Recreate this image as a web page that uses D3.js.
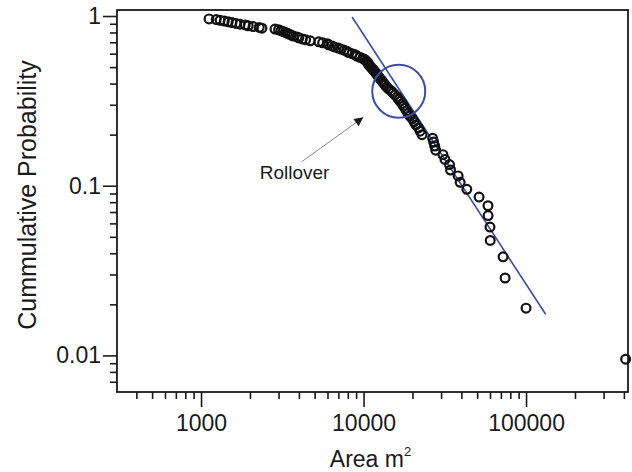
<!DOCTYPE html>
<html>
<head>
<meta charset="utf-8">
<script src="https://cdn.jsdelivr.net/npm/d3@7"></script>
<style>
  html, body { margin: 0; padding: 0; background: #fff; }
  svg { display: block; }
  text { font-family: "Liberation Sans", Arial, Helvetica, sans-serif; fill: #1a1a1a; }
</style>
</head>
<body>
<svg id="chart" width="632" height="472"></svg>
<script>
// ---- Data ----
const area = [410000, 100000, 74300, 72200, 60200, 60000, 58400, 58300, 51400, 43200,
  39300, 38200, 34300, 33800, 31700, 30800, 27800, 27400, 27000, 26600,
  22900, 22300, 21800, 21000, 20500, 20000, 19300, 18800, 18400, 18000,
  17600, 17300, 16800, 16400, 16100, 15600, 15200, 14800, 14300, 13900,
  13600, 13400, 13100, 12900, 12600, 12400, 12200, 12000, 11800, 11600,
  11400, 11200, 11000, 10800, 10700, 10600, 10400, 10200, 9900, 9500,
  9100, 8900, 8500, 8100, 7900, 7600, 7300, 7000, 6600, 6400,
  6100, 6000, 5600, 5300, 4700, 4400, 4200, 4000, 3900, 3700,
  3600, 3500, 3400, 3300, 3200, 3100, 3000, 2850, 2370, 2280,
  2090, 1950, 1870, 1740, 1640, 1550, 1470, 1390, 1310, 1240, 1120];
const prob = [0.0095, 0.0190, 0.0286, 0.0381, 0.0476, 0.0571, 0.0667, 0.0762, 0.0857, 0.0952,
  0.1048, 0.1143, 0.1238, 0.1333, 0.1429, 0.1524, 0.1619, 0.1714, 0.1810, 0.1905,
  0.2000, 0.2095, 0.2190, 0.2286, 0.2381, 0.2476, 0.2571, 0.2667, 0.2762, 0.2857,
  0.2952, 0.3048, 0.3143, 0.3238, 0.3333, 0.3429, 0.3524, 0.3619, 0.3714, 0.3810,
  0.3905, 0.4000, 0.4095, 0.4190, 0.4286, 0.4381, 0.4476, 0.4571, 0.4667, 0.4762,
  0.4857, 0.4952, 0.5048, 0.5143, 0.5238, 0.5333, 0.5429, 0.5524, 0.5619, 0.5714,
  0.5810, 0.5905, 0.6000, 0.6095, 0.6190, 0.6286, 0.6381, 0.6476, 0.6571, 0.6667,
  0.6762, 0.6857, 0.6952, 0.7048, 0.7143, 0.7238, 0.7333, 0.7429, 0.7524, 0.7619,
  0.7714, 0.7810, 0.7905, 0.8000, 0.8095, 0.8190, 0.8286, 0.8381, 0.8476, 0.8571,
  0.8667, 0.8762, 0.8857, 0.8952, 0.9048, 0.9143, 0.9238, 0.9333, 0.9429, 0.9524, 0.9619];

// power-law fit line endpoints
const fitArea = [8500, 132000];
const fitProb = [0.986, 0.0175];

// rollover annotation
const rollCenter = [16470, 0.36];
const arrowFrom = [4166, 0.1385];
const arrowTo = [9972, 0.253];
const rollLabelAt = [3762, 0.1095];
const rollLabel = "Rollover";

const xMajorTicks = [1000, 10000, 100000];
const xTickLabels = ["1000", "10000", "100000"];
const xMinorTicks = [400, 500, 600, 700, 800, 900, 2000, 3000, 4000, 5000, 6000, 7000, 8000, 9000,
  20000, 30000, 40000, 50000, 60000, 70000, 80000, 90000, 200000, 300000, 400000];
const yMajorTicks = [1, 0.1, 0.01];
const yTickLabels = ["1", "0.1", "0.01"];
const yMinorTicks = [0.9, 0.8, 0.7, 0.6, 0.5, 0.4, 0.3, 0.2, 0.09, 0.08, 0.07, 0.06, 0.05, 0.04, 0.03, 0.02,
  0.009, 0.008, 0.007];

const xTitle = "Area m";
const xTitleSup = "2";
const yTitle = "Cummulative Probability";

// ---- Layout ----
const L = 117, R = 628, T = 10, B = 392;
const svg = d3.select("#chart");

const x = d3.scaleLog().domain([304, 424000]).range([L, R]);
const y = d3.scaleLog().domain([1.085, 0.00609]).range([T, B]);

const fontTick = "23px";

// x axis
const gxMinor = svg.append("g").attr("transform", `translate(0,${B})`)
  .call(d3.axisBottom(x).tickValues(xMinorTicks).tickSize(7).tickFormat(""));
const gxMajor = svg.append("g").attr("transform", `translate(0,${B})`)
  .call(d3.axisBottom(x).tickValues(xMajorTicks).tickSize(15).tickPadding(8)
    .tickFormat((d, i) => xTickLabels[i]));
// y axis
const gyMinor = svg.append("g").attr("transform", `translate(${L},0)`)
  .call(d3.axisLeft(y).tickValues(yMinorTicks).tickSize(7).tickFormat(""));
const gyMajor = svg.append("g").attr("transform", `translate(${L},0)`)
  .call(d3.axisLeft(y).tickValues(yMajorTicks).tickSize(14).tickPadding(2)
    .tickFormat((d, i) => yTickLabels[i]));

[gxMinor, gxMajor, gyMinor, gyMajor].forEach(g => {
  g.select(".domain").remove();
  g.selectAll(".tick line").attr("stroke", "#1a1a1a").attr("stroke-width", 1.6);
  g.selectAll(".tick text").style("font-size", fontTick).attr("fill", "#1a1a1a")
    .style("font-family", '"Liberation Sans", Arial, sans-serif');
});

// frame
svg.append("rect").attr("x", L).attr("y", T).attr("width", R - L).attr("height", B - T)
  .attr("fill", "none").attr("stroke", "#1a1a1a").attr("stroke-width", 1.8);

// fit line
const blue = "#3c4f9e";
svg.append("line")
  .attr("x1", x(fitArea[0])).attr("y1", y(fitProb[0]))
  .attr("x2", x(fitArea[1])).attr("y2", y(fitProb[1]))
  .attr("stroke", blue).attr("stroke-width", 1.6);

// data points
const pts = area.map((a, i) => ({ a, p: prob[i] }));
svg.append("g").selectAll("circle").data(pts).join("circle")
  .attr("cx", d => x(d.a)).attr("cy", d => y(d.p)).attr("r", 4.4)
  .attr("fill", "none").attr("stroke", "#111").attr("stroke-width", 2.2);

// rollover circle
svg.append("circle")
  .attr("cx", x(rollCenter[0])).attr("cy", y(rollCenter[1])).attr("r", 26.5)
  .attr("fill", "none").attr("stroke", blue).attr("stroke-width", 2);

// arrow
const defs = svg.append("defs");
defs.append("marker").attr("id", "ah").attr("viewBox", "0 0 10 10")
  .attr("refX", 10).attr("refY", 5).attr("markerWidth", 11).attr("markerHeight", 9)
  .attr("markerUnits", "userSpaceOnUse").attr("orient", "auto")
  .append("path").attr("d", "M0,0 L10,5 L0,10 Z").attr("fill", "#1a1a1a");
svg.append("line")
  .attr("x1", x(arrowFrom[0])).attr("y1", y(arrowFrom[1]))
  .attr("x2", x(arrowTo[0])).attr("y2", y(arrowTo[1]))
  .attr("stroke", "#8a8a8a").attr("stroke-width", 1)
  .attr("marker-end", "url(#ah)");

svg.append("text").attr("x", x(rollLabelAt[0])).attr("y", y(rollLabelAt[1]))
  .attr("text-anchor", "middle").style("font-size", "19px").text(rollLabel);

// axis titles
const xt = svg.append("text").attr("x", (L + R) / 2 - 2).attr("y", 467)
  .attr("text-anchor", "middle").style("font-size", "23px");
xt.append("tspan").text(xTitle);
xt.append("tspan").attr("dy", -11).style("font-size", "13px").text(xTitleSup);

svg.append("text")
  .attr("transform", `translate(36,195) rotate(-90)`)
  .attr("text-anchor", "middle").style("font-size", "25px").text(yTitle);
</script>
</body>
</html>
